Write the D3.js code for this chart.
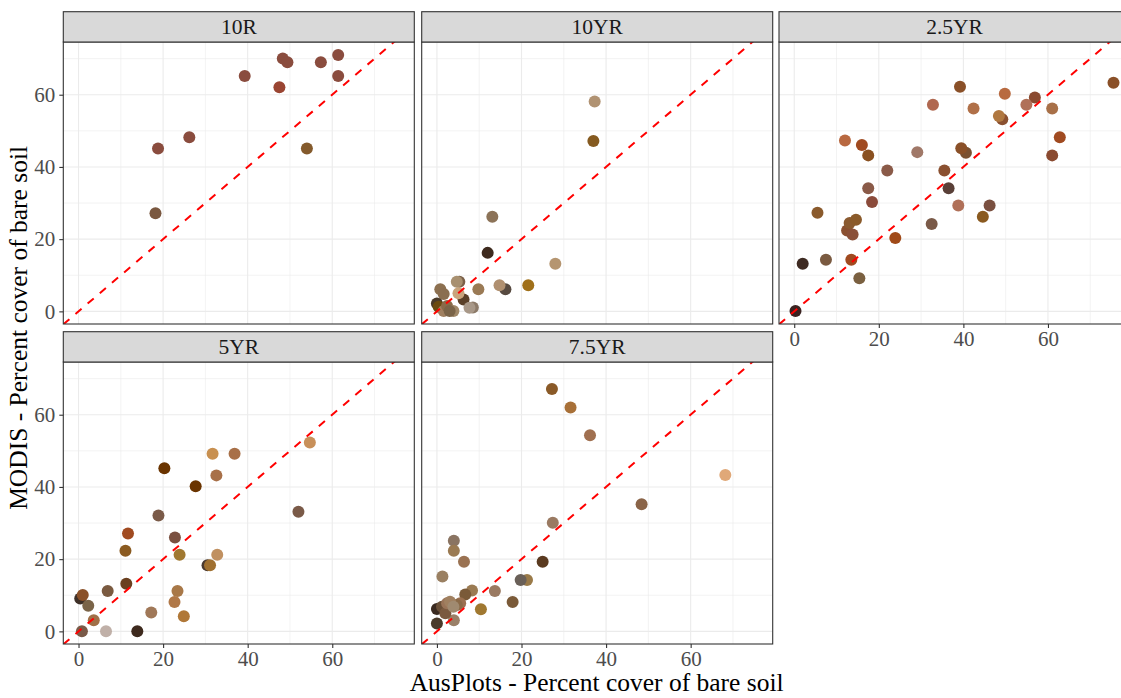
<!DOCTYPE html>
<html>
<head>
<meta charset="utf-8">
<script src="https://cdn.jsdelivr.net/npm/d3@7"></script>
<style>
  body { margin: 0; background: #fff; }
  svg { display: block; font-family: "Liberation Serif", "Times New Roman", serif; }
</style>
</head>
<body>
<div id="chart"></div>
<script>
// Munsell hue groups, one facet each
var hues = ["10R", "10YR", "2.5YR", "5YR", "7.5YR"];

// [AusPlots bare soil %, MODIS bare soil %, soil colour]
var pts10R = [
  [18.2, 27.2, "#7a5840"], [18.8, 45.1, "#8a4c3e"], [26.2, 48.2, "#8a4c3e"],
  [39.3, 65.2, "#8a4c3e"], [47.5, 62.1, "#9a4532"], [48.3, 70.0, "#8a4c3e"],
  [49.4, 69.0, "#8a4c3e"], [54.0, 45.1, "#845a2c"], [57.3, 69.0, "#8a4c3e"],
  [61.4, 71.0, "#8a4c3e"], [61.4, 65.2, "#8a4c3e"]
];
var pts10YR = [
  [37.3, 58.1, "#b09272"], [37.0, 47.2, "#855a20"], [13.1, 26.2, "#8c7358"],
  [12.0, 16.2, "#3e2a1e"], [28.0, 13.2, "#b59570"], [21.6, 7.2, "#a0701a"],
  [16.2, 6.1, "#574a40"], [14.8, 7.2, "#b09070"], [9.8, 6.1, "#9a7a55"],
  [5.3, 8.2, "#7a6048"], [4.7, 8.2, "#a89070"], [0.8, 6.1, "#8c7050"],
  [1.6, 4.8, "#8a6e50"], [0.0, 2.2, "#4a3a2a"], [0.4, 1.3, "#6b4a10"],
  [6.3, 3.3, "#5a4028"], [8.5, 1.1, "#8c7a68"], [7.7, 1.0, "#a89888"],
  [1.6, 0.1, "#a08060"], [2.4, 1.5, "#8a6a48"], [3.9, 0.1, "#a08868"],
  [3.0, 0.1, "#7a6448"], [5.1, 5.0, "#c8a47c"]
];
var pts25YR = [
  [0.3, 0.1, "#3a2220"], [2.0, 13.2, "#3e2a22"], [5.5, 27.3, "#8a5a2c"],
  [7.5, 14.3, "#7a5a40"], [12.0, 47.3, "#b86840"], [12.5, 22.4, "#8a5030"],
  [13.1, 24.5, "#8a5a30"], [13.8, 21.3, "#8a5038"], [14.6, 25.4, "#8a5a2a"],
  [13.5, 14.3, "#a04a20"], [15.4, 9.2, "#7a6040"], [16.0, 46.1, "#a04a20"],
  [17.5, 43.2, "#8a5020"], [17.5, 34.1, "#8a5a48"], [18.4, 30.3, "#8a4a3a"],
  [22.0, 39.0, "#8a5a48"], [23.9, 20.3, "#a04a18"], [29.1, 44.1, "#a07868"],
  [32.8, 57.2, "#b06850"], [32.5, 24.2, "#7a5a48"], [35.5, 39.0, "#8a5030"],
  [36.5, 34.1, "#5a4038"], [38.8, 29.3, "#b07058"], [39.2, 62.2, "#8a5028"],
  [40.6, 43.9, "#7a5030"], [39.5, 45.2, "#8a5028"], [42.4, 56.2, "#b07048"],
  [44.6, 26.2, "#8a5a20"], [46.2, 29.3, "#7a5040"], [49.2, 53.2, "#8a5030"],
  [48.4, 54.1, "#b07840"], [49.8, 60.3, "#b86a40"], [56.9, 59.2, "#8a4a30"],
  [54.9, 57.2, "#b07058"], [61.0, 56.2, "#a87048"], [61.0, 43.2, "#8a4a30"],
  [62.8, 48.2, "#a04a20"], [75.5, 63.3, "#8a5028"]
];
var pts5YR = [
  [0.4, 9.1, "#3e3028"], [0.8, 0.0, "#7a5a48"], [1.0, 10.1, "#8a5028"],
  [2.3, 7.1, "#7a6448"], [3.6, 3.1, "#a07048"], [6.5, 0.0, "#c0b0a8"],
  [6.9, 11.2, "#7a5a40"], [11.1, 22.3, "#8a5a20"], [11.7, 27.1, "#a04a20"],
  [11.3, 13.2, "#6a4020"], [13.9, 0.0, "#3e2a1e"], [17.2, 5.2, "#a07858"],
  [18.9, 32.1, "#7a5a48"], [20.3, 45.2, "#6a3400"], [22.8, 26.0, "#7a5040"],
  [23.9, 21.2, "#a07830"], [23.4, 11.2, "#a87848"], [22.7, 8.1, "#b07848"],
  [24.9, 4.2, "#b07838"], [27.7, 40.2, "#6a3400"], [30.5, 18.3, "#4a3a30"],
  [31.1, 18.3, "#a07030"], [31.7, 49.2, "#c89050"], [32.6, 43.2, "#a87048"],
  [32.8, 21.2, "#c09060"], [36.9, 49.2, "#a87048"], [52.0, 33.1, "#7a5a48"],
  [54.7, 52.3, "#c8905a"]
];
var pts75YR = [
  [27.2, 67.1, "#8a5a28"], [31.6, 62.0, "#a87038"], [36.2, 54.3, "#a07050"],
  [68.2, 43.3, "#e0a878"], [48.4, 35.2, "#8a6448"], [27.4, 30.1, "#9a7a62"],
  [4.0, 25.1, "#8a7462"], [4.0, 22.3, "#9a7a52"], [6.4, 19.3, "#9a7252"],
  [1.3, 15.2, "#9a8062"], [25.0, 19.3, "#5a3a20"], [21.3, 14.2, "#9a7a48"],
  [19.8, 14.2, "#6a6058"], [13.7, 11.2, "#9a7a62"], [8.3, 11.3, "#9a7a52"],
  [6.7, 10.2, "#7a5a38"], [17.9, 8.1, "#7a5a38"], [10.4, 6.1, "#a07830"],
  [0.0, 2.2, "#4a3a2a"], [4.0, 3.1, "#9a8068"], [0.0, 6.2, "#3a2a20"],
  [1.2, 6.8, "#6a5038"], [2.0, 5.0, "#7a5a40"], [5.5, 7.8, "#9a7050"],
  [4.7, 7.3, "#8a6a48"], [2.4, 7.8, "#9a7458"], [3.1, 8.2, "#a08060"],
  [3.9, 6.8, "#a08a70"]
];
var facetData = [pts10R, pts10YR, pts25YR, pts5YR, pts75YR];

var majorTicks = [0, 20, 40, 60];
var minorTicks = [10, 30, 50, 70];

var W = 1121, H = 698;
var colLeft = [63.3, 421.7, 779];
var rowTop = [11.7, 331.7];
var panelW = 351, stripH = 30.3, panelH = 282;

var x = d3.scaleLinear().domain([-3.6, 79.4]).range([0, panelW]);
var y = d3.scaleLinear().domain([-3.5, 74.6]).range([panelH, 0]);

var svg = d3.select("#chart").append("svg")
  .attr("width", W).attr("height", H);

svg.append("rect").attr("width", W).attr("height", H).attr("fill", "#fff");

hues.forEach(function(hue, i) {
  var col = i % 3, row = Math.floor(i / 3);
  var left = colLeft[col], top = rowTop[row];
  var g = svg.append("g").attr("transform", "translate(" + left + "," + (top + stripH) + ")");

  var clipId = "clip" + i;
  g.append("clipPath").attr("id", clipId)
    .append("rect").attr("width", panelW).attr("height", panelH);

  var body = g.append("g").attr("clip-path", "url(#" + clipId + ")");
  body.append("rect").attr("width", panelW).attr("height", panelH).attr("fill", "#fff");

  // grid: minor first, then major
  body.selectAll(".vmin").data(minorTicks).enter().append("line")
    .attr("x1", x).attr("x2", x).attr("y1", 0).attr("y2", panelH)
    .attr("stroke", "#ebebeb").attr("stroke-width", 0.6);
  body.selectAll(".hmin").data(minorTicks).enter().append("line")
    .attr("y1", y).attr("y2", y).attr("x1", 0).attr("x2", panelW)
    .attr("stroke", "#ebebeb").attr("stroke-width", 0.6);
  body.selectAll(".vmaj").data(majorTicks).enter().append("line")
    .attr("x1", x).attr("x2", x).attr("y1", 0).attr("y2", panelH)
    .attr("stroke", "#ebebeb").attr("stroke-width", 1.1);
  body.selectAll(".hmaj").data(majorTicks).enter().append("line")
    .attr("y1", y).attr("y2", y).attr("x1", 0).attr("x2", panelW)
    .attr("stroke", "#ebebeb").attr("stroke-width", 1.1);

  // points
  body.selectAll("circle").data(facetData[i]).enter().append("circle")
    .attr("cx", function(d) { return x(d[0]); })
    .attr("cy", function(d) { return y(d[1]); })
    .attr("r", 6)
    .attr("fill", function(d) { return d[2]; });

  // 1:1 line, starting from the panel's lower-left corner
  body.append("line")
    .attr("x1", x(-3.6)).attr("y1", y(-3.6))
    .attr("x2", x(90)).attr("y2", y(90))
    .attr("stroke", "#ff0000").attr("stroke-width", 2)
    .attr("stroke-dasharray", "8,8");

  g.append("rect").attr("width", panelW).attr("height", panelH)
    .attr("fill", "none").attr("stroke", "#333").attr("stroke-width", 1.1);

  // strip
  var strip = svg.append("g").attr("transform", "translate(" + left + "," + top + ")");
  strip.append("rect").attr("width", panelW).attr("height", stripH)
    .attr("fill", "#d9d9d9").attr("stroke", "#333").attr("stroke-width", 1.1);
  strip.append("text").attr("x", panelW / 2).attr("y", stripH / 2 + 7.5)
    .attr("text-anchor", "middle").attr("font-size", 21.5).attr("fill", "#1a1a1a")
    .text(hue);

  // left axis on first column
  if (col === 0) {
    var ay = g.append("g").call(d3.axisLeft(y).tickValues(majorTicks).tickSize(4).tickPadding(4));
    styleAxis(ay);
  }
  // bottom axis where no panel sits underneath
  if (row === 1 || i === 2) {
    var ax = g.append("g").attr("transform", "translate(0," + panelH + ")")
      .call(d3.axisBottom(x).tickValues(majorTicks).tickSize(4).tickPadding(3));
    styleAxis(ax);
  }
});

function styleAxis(a) {
  a.select(".domain").remove();
  a.selectAll(".tick line").attr("stroke", "#333").attr("stroke-width", 1.1);
  a.selectAll(".tick text").attr("fill", "#4d4d4d").attr("font-size", 21)
    .attr("font-family", "Liberation Serif, serif");
}

svg.append("text")
  .attr("x", (colLeft[0] + colLeft[2] + panelW) / 2).attr("y", 691)
  .attr("text-anchor", "middle").attr("font-size", 25.5).attr("fill", "#000")
  .text("AusPlots - Percent cover of bare soil");

svg.append("text")
  .attr("transform", "translate(27," + ((rowTop[0] + rowTop[1] + stripH + panelH) / 2) + ") rotate(-90)")
  .attr("text-anchor", "middle").attr("font-size", 25.5).attr("fill", "#000")
  .text("MODIS - Percent cover of bare soil");
</script>
</body>
</html>
